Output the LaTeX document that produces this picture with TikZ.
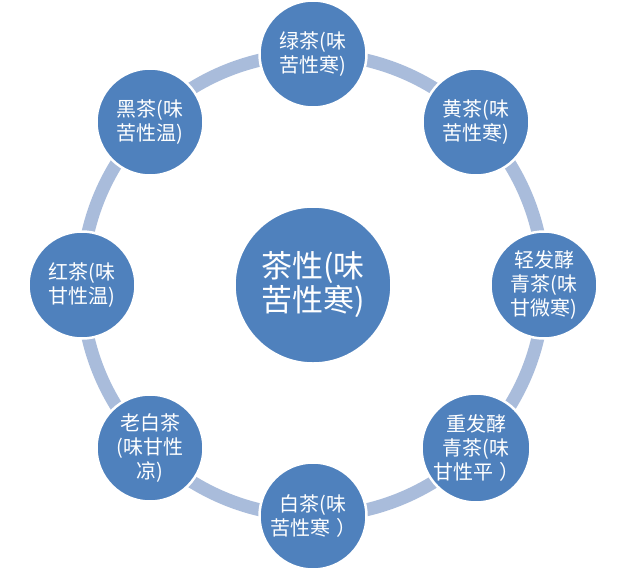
\documentclass[tikz,border=0pt]{standalone}
\usepackage{fontspec}
\setmainfont{Noto Sans CJK SC}
\usetikzlibrary{calc}
\definecolor{nodeblue}{HTML}{4F81BD}
\definecolor{ringblue}{HTML}{A9BCDB}
\tikzset{
  ringline/.style={draw=ringblue, line width=13pt},
  outer/.style={circle, fill=nodeblue, draw=white, line width=2.5pt, minimum size=107pt, inner sep=0pt,
    text=white, align=center, font=\fontsize{20}{24}\selectfont},
  inner/.style={circle, fill=nodeblue, draw=white, line width=2.5pt, minimum size=157pt, inner sep=0pt,
    text=white, align=center, font=\fontsize{31}{34}\selectfont}
}
\begin{document}
\begin{tikzpicture}[x=1pt,y=-1pt]
\useasboundingbox[fill=white] (0,0) rectangle (640,571);
\coordinate (o) at (313,285);
\draw[ringline] (o) circle[radius=231];
\node[inner] (center) at (o) {茶性(味\\苦性寒)};
\node[outer] (lv) at ($(o)+(0,-231)$) {绿茶(味\\苦性寒)};
\node[outer] (huang) at ($(o)+(163,-163)$) {黄茶(味\\苦性寒)};
\node[outer] (qing) at ($(o)+(231,0)$) {轻发酵\\青茶(味\\甘微寒)};
\node[outer] (zhong) at ($(o)+(163,163)$) {重发酵\\青茶(味\\甘性平\kern0.3em）};
\node[outer] (bai) at ($(o)+(0,231)$) {白茶(味\\苦性寒\kern0.3em）};
\node[outer] (laobai) at ($(o)+(-163,163)$) {老白茶\\(味甘性\\凉)};
\node[outer] (hong) at ($(o)+(-231,0)$) {红茶(味\\甘性温)};
\node[outer] (hei) at ($(o)+(-163,-163)$) {黑茶(味\\苦性温)};
\end{tikzpicture}
\end{document}
